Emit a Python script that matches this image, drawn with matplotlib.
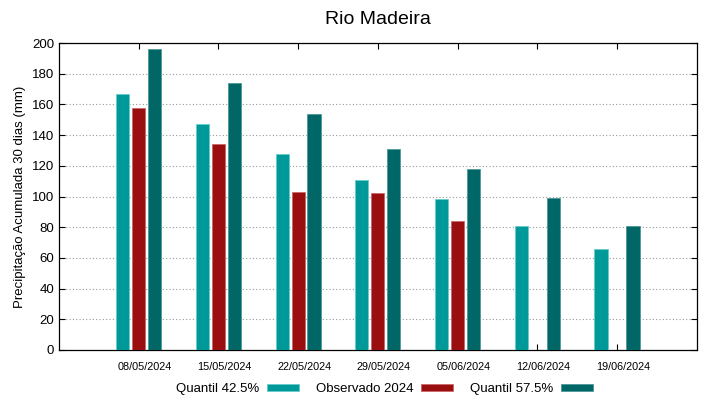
import numpy as np
import matplotlib.pyplot as plt

plt.rcParams['font.family'] = ['Liberation Sans', 'DejaVu Sans']

datas = ['08/05/2024', '15/05/2024', '22/05/2024', '29/05/2024',
         '05/06/2024', '12/06/2024', '19/06/2024']
q425 = [167, 147, 127.5, 111, 98.5, 81, 65.5]
obs2024 = [158, 134.5, 103, 102, 84, np.nan, np.nan]
q575 = [196, 174, 154, 131, 118, 99, 81]

x = np.arange(len(datas))
w = 0.165
off = 0.2

fig, ax = plt.subplots(figsize=(7.19, 3.99), dpi=100)
fig.subplots_adjust(left=0.082, right=0.969, top=0.892, bottom=0.123)

ax.bar(x - off, q425, w, color='#009999', edgecolor='#66cccc', linewidth=0.6,
       label='Quantil 42.5%', zorder=3)
ax.bar(x, obs2024, w, color='#990f0f', edgecolor='#cc6666', linewidth=0.6,
       label='Observado 2024', zorder=3)
ax.bar(x + off, q575, w, color='#006666', edgecolor='#4d9999', linewidth=0.6,
       label='Quantil 57.5%', zorder=3)

ax.set_xlim(-1, 7)
ax.set_ylim(0, 200)
ax.set_yticks(np.arange(0, 201, 20))
# tick marks at the groups, labels slightly to the right (as in the original)
ax.set_xticks(x)
ax.set_xticklabels([])
ax.set_xticks(x + 0.075, minor=True)
ax.set_xticklabels(datas, minor=True, fontsize=7.8)
ax.tick_params(axis='x', which='minor', length=0, pad=9)
ax.tick_params(axis='y', labelsize=9.5, direction='in', right=True, length=4)
ax.tick_params(axis='x', which='major', direction='in', top=True, length=4)
ax.yaxis.grid(True, linestyle=(0, (1, 2)), color='#999999', linewidth=0.8)
ax.set_axisbelow(True)
for s in ax.spines.values():
    s.set_linewidth(0.9)

ax.set_ylabel('Precipitação Acumulada 30 dias (mm)', fontsize=9.5)
ax.set_title('Rio Madeira', fontsize=14, pad=14)

ax.legend(loc='upper center', bbox_to_anchor=(0.51, -0.07), ncol=3,
          frameon=False, markerfirst=False, fontsize=9.5,
          handlelength=2.4, handleheight=0.45, columnspacing=1.3,
          handletextpad=0.6)

fig.savefig('out.png', dpi=100)
